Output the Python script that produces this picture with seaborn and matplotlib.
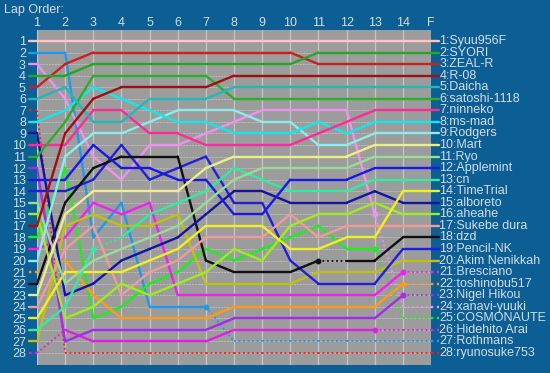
import matplotlib
matplotlib.use("Agg")
import matplotlib.pyplot as plt
import seaborn as sns
import pandas as pd

# ---------------- data ----------------
lap_labels = ['1', '2', '3', '4', '5', '6', '7', '8', '9', '10', '11', '12', '13', '14', 'F']

drivers = ['Syuu956F', 'SYORI', 'ZEAL-R', 'R-08', 'Daicha', 'satoshi-1118', 'ninneko',
           'ms-mad', 'Rodgers', 'Mart', 'Ryo', 'Applemint', 'cn', 'TimeTrial', 'alboreto',
           'aheahe', 'Sukebe dura', 'dzd', 'Pencil-NK', 'Akim Nenikkah', 'Bresciano',
           'toshinobu517', 'Nigel Hikou', 'xanavi-yuuki', 'COSMONAUTE', 'Hidehito Arai',
           'Rothmans', 'ryunosuke753']

colors = ['#ffc4c4', '#22a822', '#cc2020', '#a01010', '#20b8b8', '#28b028', '#ff2a9a',
          '#10e8ee', '#8cecec', '#eeee88', '#98dc98', '#1818e8', '#30eca0', '#f0f020', '#1414a0',
          '#9cec20', '#f09a9a', '#101010', '#2020d8', '#c0c010', '#f020f0',
          '#ff9a18', '#a828f0', '#f090f0', '#20ec20', '#e020e0',
          '#2098ec', '#ee2020']

pos_syuu956f = [1, 1, 1, 1, 1, 1, 1, 1, 1, 1, 1, 1, 1, 1, 1]
pos_syori = [4, 4, 3, 3, 3, 3, 3, 3, 3, 3, 2, 2, 2, 2, 2]
pos_zeal_r = [5, 3, 2, 2, 2, 2, 2, 2, 2, 2, 3, 3, 3, 3, 3]
pos_r08 = [17, 9, 6, 5, 5, 5, 5, 4, 4, 4, 4, 4, 4, 4, 4]
pos_daicha = [6, 5, 8, 8, 6, 6, 6, 5, 5, 5, 5, 5, 5, 5, 5]
pos_satoshi = [11, 8, 4, 4, 4, 4, 4, 6, 6, 6, 6, 6, 6, 6, 6]
pos_ninneko = [10, 10, 7, 7, 9, 9, 10, 10, 10, 10, 9, 8, 7, 7, 7]
pos_ms_mad = [8, 7, 5, 6, 7, 8, 8, 9, 9, 9, 8, 9, 8, 8, 8]
pos_rodgers = [20, 11, 9, 9, 8, 7, 7, 7, 8, 8, 10, 10, 9, 9, 9]
pos_mart = [23, 16, 14, 14, 14, 14, 12, 11, 11, 11, 11, 11, 10, 10, 10]
pos_ryo = [15, 22, 20, 19, 18, 17, 15, 13, 12, 12, 12, 12, 11, 11, 11]
pos_applemint = [13, 13, 10, 12, 12, 13, 13, 16, 16, 13, 13, 13, 12, 12, 12]
pos_cn = [26, 24, 19, 18, 16, 15, 14, 12, 13, 14, 14, 14, 13, 13, 13]
pos_timetrial = [25, 21, 21, 21, 20, 19, 17, 17, 17, 19, 19, 18, 18, 14, 14]
pos_alboreto = [9, 23, 22, 20, 19, 18, 16, 14, 14, 15, 15, 15, 14, 15, 15]
pos_aheahe = [16, 25, 24, 22, 23, 22, 21, 19, 20, 17, 16, 16, 15, 16, 16]
pos_sukebe = [24, 19, 17, 23, 21, 20, 18, 18, 18, 16, 18, 17, 17, 17, 17]
pos_dzd = [22, 15, 12, 11, 11, 11, 20, 21, 21, 21, 20, 20, 20, 18, 18]
pos_pencil = [14, 14, 13, 10, 13, 12, 11, 15, 15, 20, 22, 22, 22, 19, 19]
pos_akim = [27, 17, 16, 17, 17, 16, 22, 22, 22, 22, 21, 21, 21, 20, 20]
pos_bresciano = [19, 18, 15, 16, 15, 23, 23, 23, 23, 23, 23, 23, 23, 21, 21]
pos_toshinobu = [21, 20, 23, 25, 25, 25, 25, 24, 24, 24, 24, 24, 24, 22, 22]
pos_nigel = [12, 27, 26, 26, 26, 26, 26, 25, 25, 25, 25, 25, 25, 23, 23]
pos_xanavi = [3, 6, 11, 13, 10, 10, 9, 8, 7, 7, 7, 7, 16, 24, 24]
pos_cosmonaute = [18, 12, 25, 24, 22, 21, 19, 20, 19, 18, 17, 19, 19, 25, 25]
pos_hidehito = [28, 26, 27, 27, 27, 27, 27, 26, 26, 26, 26, 26, 26, 26, 26]
pos_rothmans = [2, 2, 18, 15, 24, 24, 24, 27, 27, 27, 27, 27, 27, 27, 27]
pos_ryunosuke = [7, 28, 28, 28, 28, 28, 28, 28, 28, 28, 28, 28, 28, 28, 28]

positions = [pos_syuu956f, pos_syori, pos_zeal_r, pos_r08, pos_daicha, pos_satoshi,
             pos_ninneko, pos_ms_mad, pos_rodgers, pos_mart, pos_ryo, pos_applemint,
             pos_cn, pos_timetrial, pos_alboreto, pos_aheahe, pos_sukebe, pos_dzd,
             pos_pencil, pos_akim, pos_bresciano, pos_toshinobu, pos_nigel, pos_xanavi,
             pos_cosmonaute, pos_hidehito, pos_rothmans, pos_ryunosuke]

# dotted segments (segment i joins lap i+1 and lap i+2)
dotted_segments = {
    'ryunosuke753': list(range(14)),
    'Rothmans': list(range(6, 14)),
    'Hidehito Arai': [0, 12, 13],
    'Bresciano': [13],
    'toshinobu517': [0, 13],
    'Nigel Hikou': [13],
    'xanavi-yuuki': [12, 13],
    'COSMONAUTE': [12, 13],
    'dzd': [10],
    'cn': [2],
}

# ---------------- build tables ----------------
seg_rows = []
for d, pos in zip(drivers, positions):
    dots = dotted_segments.get(d, [])
    for i in range(len(pos) - 1):
        seg_rows.append({'driver': d, 'seg': f'{d}#{i}', 'lap': i + 1, 'pos': pos[i],
                         'dotted': i in dots})
        seg_rows.append({'driver': d, 'seg': f'{d}#{i}', 'lap': i + 2, 'pos': pos[i + 1],
                         'dotted': i in dots})
seg_df = pd.DataFrame(seg_rows)
palette = dict(zip(drivers, colors))

BG = '#0b5f95'
PLOT_BG = '#9c9c9c'
TXT = '#d4dce6'
FS = 9

sns.set_theme(style='white')
plt.rcParams['font.family'] = ['Liberation Sans', 'DejaVu Sans']

fig = plt.figure(figsize=(5.5, 3.73), dpi=100, facecolor=BG)
W, H = 550, 373
ax = fig.add_axes([37 / W, (H - 365) / H, (431 - 37) / W, (365 - 30) / H])
ax.set_facecolor(PLOT_BG)

# grid
for x in range(1, 16):
    ax.axvline(x, color='#c4c4c4', lw=0.9, zorder=0)
for y in range(1, 29):
    ax.axhline(y, color='#bcbcbc', lw=0.7, ls=(0, (2, 1)), zorder=0)

# draw in reverse so leaders are on top
order = list(reversed(drivers))
for d in order:
    sub = seg_df[seg_df['driver'] == d]
    solid = sub[~sub['dotted']]
    dotted = sub[sub['dotted']]
    if len(solid):
        sns.lineplot(data=solid, x='lap', y='pos', units='seg', estimator=None,
                     color=palette[d], lw=1.7, ax=ax, legend=False, sort=False)
    if len(dotted):
        sns.lineplot(data=dotted, x='lap', y='pos', units='seg', estimator=None,
                     color=palette[d], lw=1.3, ax=ax, legend=False, sort=False,
                     linestyle=(0, (1, 1.5)))
    dots = dotted_segments.get(d, [])
    late = [s for s in dots if s > 0]
    if late and d != 'ryunosuke753':
        first = min(late)
        ax.plot(first + 1, positions[drivers.index(d)][first], 'o', ms=3.2,
                color=palette[d], zorder=5)

# stubs left and right with labels
for d, pos in zip(drivers, positions):
    c = palette[d]
    ls_l = (0, (1, 1.5)) if d in ('ryunosuke753', 'Hidehito Arai', 'toshinobu517') else '-'
    ax.plot([0.72, 1.0], [pos[0], pos[0]], color=c, lw=1.7, clip_on=False, ls=ls_l)
    ls_r = (0, (1, 1.5)) if 13 in dotted_segments.get(d, []) else '-'
    ax.plot([15.0, 15.27], [pos[-1], pos[-1]], color=c, lw=1.7, clip_on=False, ls=ls_r)
    ax.text(15.30, pos[-1], f'{pos[-1]}:{d}', color=TXT, fontsize=FS,
            va='center', ha='left', clip_on=False)

ax.set_xlim(1, 15)
ax.set_ylim(29.04, 0.05)
ax.set_xticks([])
# lap labels above the plot (pixel row ~23)
lap_y = 1 + (23 - 41) / 11.556
for i, lab in enumerate(lap_labels):
    ax.text(i + 1, lap_y, lab, color=TXT, fontsize=FS, ha='center', va='center',
            clip_on=False)
ax.set_yticks(range(1, 29))
ax.set_yticklabels([str(i) for i in range(1, 29)])
ax.tick_params(axis='both', length=0, colors=TXT, labelsize=FS)
ax.tick_params(axis='y', pad=8)
ax.set_xlabel('')
ax.set_ylabel('')
for s in ax.spines.values():
    s.set_visible(False)

fig.text(4 / W, 1 - 10 / H, 'Lap Order:', color=TXT, fontsize=FS, va='center', ha='left')

fig.savefig('out.png', dpi=100, facecolor=BG)
